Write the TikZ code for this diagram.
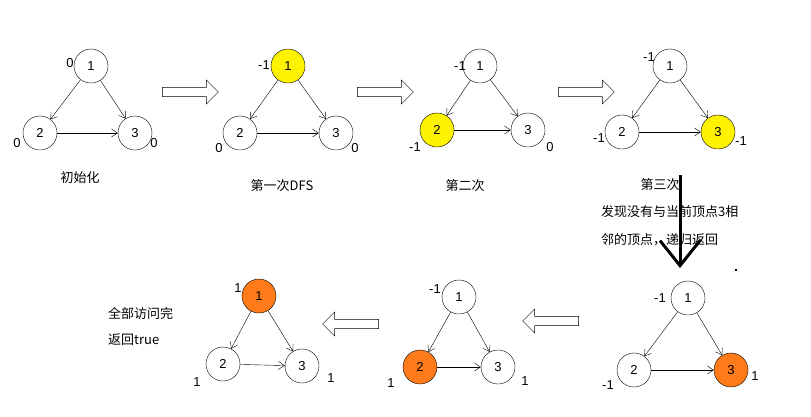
\documentclass[tikz,border=0pt]{standalone}
\usepackage{fontspec}
\setmainfont{Liberation Sans}
\newfontfamily\cjk{Noto Sans CJK SC}
\usetikzlibrary{shapes.arrows,arrows.meta}
\begin{document}
\begin{tikzpicture}[x=1pt,y=-1pt,
  vtx/.style={circle,draw,minimum size=34pt,inner sep=0pt,font=\fontsize{13}{13}\selectfont},
  lab/.style={font=\fontsize{13}{13}\selectfont,inner sep=0pt},
  txt/.style={font=\cjk\fontsize{13}{15}\selectfont,inner sep=0pt},
  edge/.style={-{Straight Barb[length=6pt,width=8pt]},thin},
  blk/.style={single arrow,draw,minimum height=56pt,minimum width=24pt,single arrow head extend=5pt,inner sep=3pt,shape border uses incircle=false}]
\useasboundingbox (0,0) rectangle (811,416);
\newcommand\tri[7]{%
 \node[vtx,fill=#7] (#1a) at (#2,#3) {1};
 \node[vtx,fill=#7] (#1b) at (#4,#5) {2};
 \node[vtx,fill=#7] (#1c) at (#6,#3+67) {3};}
% T1
\node[vtx] (a1) at (91,66) {1}; \node[vtx] (a2) at (40,133) {2}; \node[vtx] (a3) at (135,133) {3};
\node[lab] (la1) at (70,63) {0}; \node[lab] (la2) at (17,143) {0}; \node[lab] (la3) at (154,143) {0};
% T2
\node[vtx,fill=yellow] (b1) at (288,66) {1}; \node[vtx] (b2) at (240,133) {2}; \node[vtx] (b3) at (336,133) {3};
\node[lab] (lb1) at (264,65) {-1}; \node[lab] (lb2) at (219,148) {0}; \node[lab] (lb3) at (355,148) {0};
% T3
\node[vtx] (c1) at (480,66) {1}; \node[vtx,fill=yellow] (c2) at (437,130) {2}; \node[vtx] (c3) at (528,130) {3};
\node[lab] (lc1) at (460,66) {-1}; \node[lab] (lc2) at (415,147) {-1}; \node[lab] (lc3) at (550,147) {0};
% T4
\node[vtx] (d1) at (670,66) {1}; \node[vtx] (d2) at (622,132) {2}; \node[vtx,fill=yellow] (d3) at (718,132) {3};
\node[lab] (ld1) at (649,57) {-1}; \node[lab] (ld2) at (599,138) {-1}; \node[lab] (ld3) at (741,141) {-1};
% T5
\node[vtx] (e1) at (688,298) {1}; \node[vtx] (e2) at (634,370) {2}; \node[vtx,fill=orange!85!red!90] (e3) at (731,370) {3};
\node[lab] (le1) at (660,298) {-1}; \node[lab] (le2) at (608,385) {-1}; \node[lab] (le3) at (755,376) {1};
% T6
\node[vtx] (f1) at (459,297) {1}; \node[vtx,fill=orange!85!red!90] (f2) at (420,367) {2}; \node[vtx] (f3) at (498,367) {3};
\node[lab] (lf1) at (435,289) {-1}; \node[lab] (lf2) at (391,383) {1}; \node[lab] (lf3) at (525,381) {1};
% T7
\node[vtx,fill=orange!85!red!90] (g1) at (259,296) {1}; \node[vtx] (g2) at (223,364) {2}; \node[vtx] (g3) at (302,366) {3};
\node[lab] (lg1) at (238,288) {1}; \node[lab] (lg2) at (197,382) {1}; \node[lab] (lg3) at (331,378) {1};
\foreach \t in {a,b,c,d,e,f,g}{
  \draw[edge] (\t1) -- (\t2); \draw[edge] (\t1) -- (\t3); \draw[edge] (\t2) -- (\t3);}
% texts
\node[txt] (t1) at (80,178) {初始化};
\node[txt] (t2) at (282,186) {第一次DFS};
\node[txt] (t3) at (465,186) {第二次};
\node[txt] (t4) at (660,185) {第三次};
\node[txt,anchor=west] (t5) at (601,212) {发现没有与当前顶点3相};
\node[txt,anchor=west] (t6) at (601,240) {邻的顶点，递归返回};
\node[txt,anchor=west] (t7) at (108,313) {全部访问完};
\node[txt,anchor=west] (t8) at (108,340) {返回true};
% block arrows
\node[blk] (ba1) at (188,92) {};
\node[blk] (ba2) at (383,92) {};
\node[blk] (ba3) at (584,92) {};
\node[blk,shape border rotate=180] (ba4) at (553,321) {};
\node[blk,shape border rotate=180] (ba5) at (353,324) {};
% down arrow
\coordinate (ds) at (680,175); \coordinate (de) at (680,268);
\draw[line width=3pt,-{Straight Barb[length=25pt,width=40pt,line width=3pt]}] (ds) -- (de);
\node[fill=black,minimum size=2.5pt,inner sep=0pt] (dot) at (736,270) {};
\end{tikzpicture}
\end{document}
